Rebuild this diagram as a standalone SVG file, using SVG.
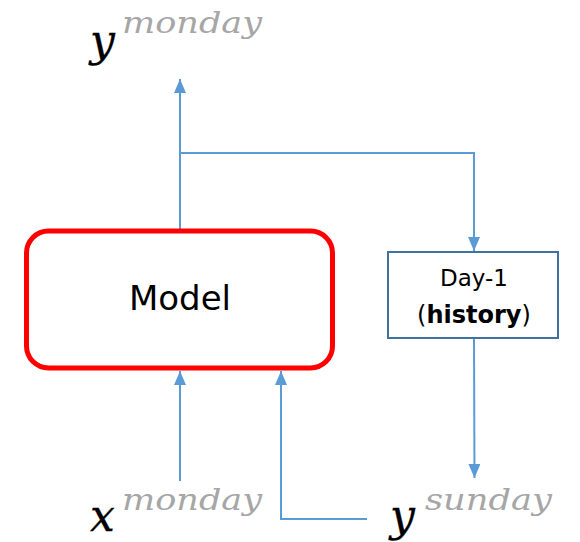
<svg xmlns="http://www.w3.org/2000/svg" width="580" height="542" viewBox="0 0 580 542">
<style>
.conn{fill:none;stroke:#5B9BD5;stroke-width:2}
.math{font-family:"DejaVu Serif","Liberation Serif",serif;font-style:italic}
.base{fill:#000;font-size:44px;stroke:#000;stroke-width:0.3}
.sup{fill:#A6A6A6;font-size:29px}
.hand{font-family:"DejaVu Sans","Liberation Sans",sans-serif;fill:#000}
</style>
<defs>
<marker id="a" viewBox="0 0 14 12" refX="14" refY="6" markerWidth="14" markerHeight="12" markerUnits="userSpaceOnUse" orient="auto">
<path d="M0,0 L14,6 L0,12 z" fill="#5B9BD5"/>
</marker>
</defs>
<g id="connectors">
<path class="conn" d="M180,230 V79" marker-end="url(#a)"/>
<path class="conn" d="M180,153 H474 V251" marker-end="url(#a)"/>
<path class="conn" d="M474,338 L474.5,478" marker-end="url(#a)"/>
<path class="conn" d="M180,481 V371" marker-end="url(#a)"/>
<path class="conn" d="M367,519 H281 V371" marker-end="url(#a)"/>
</g>
<g id="model">
<rect x="26.5" y="231" width="306" height="137" rx="22" fill="#fff" stroke="#FF0000" stroke-width="5"/>
<text class="hand" x="180" y="310" font-size="34" text-anchor="middle" fill="#111">Model</text>
</g>
<g id="day1">
<rect x="388" y="252" width="170" height="86" fill="#fff" stroke="#41719C" stroke-width="2"/>
<text class="hand" x="474" y="286" font-size="23" fill="#333" text-anchor="middle">Day-1</text>
<text class="hand" x="474" y="323" font-size="24" text-anchor="middle">(<tspan font-weight="bold">history</tspan>)</text>
</g>
<g id="y_monday">
<text class="math base" x="90" y="56">y</text>
<text class="math sup" x="122" y="33" textLength="140" lengthAdjust="spacingAndGlyphs">monday</text>
</g>
<g id="x_monday">
<text class="math base" x="90" y="531">x</text>
<text class="math sup" x="122" y="510" textLength="140" lengthAdjust="spacingAndGlyphs">monday</text>
</g>
<g id="y_sunday">
<text class="math base" x="390" y="531">y</text>
<text class="math sup" x="425" y="510" textLength="127" lengthAdjust="spacingAndGlyphs">sunday</text>
</g>
</svg>
